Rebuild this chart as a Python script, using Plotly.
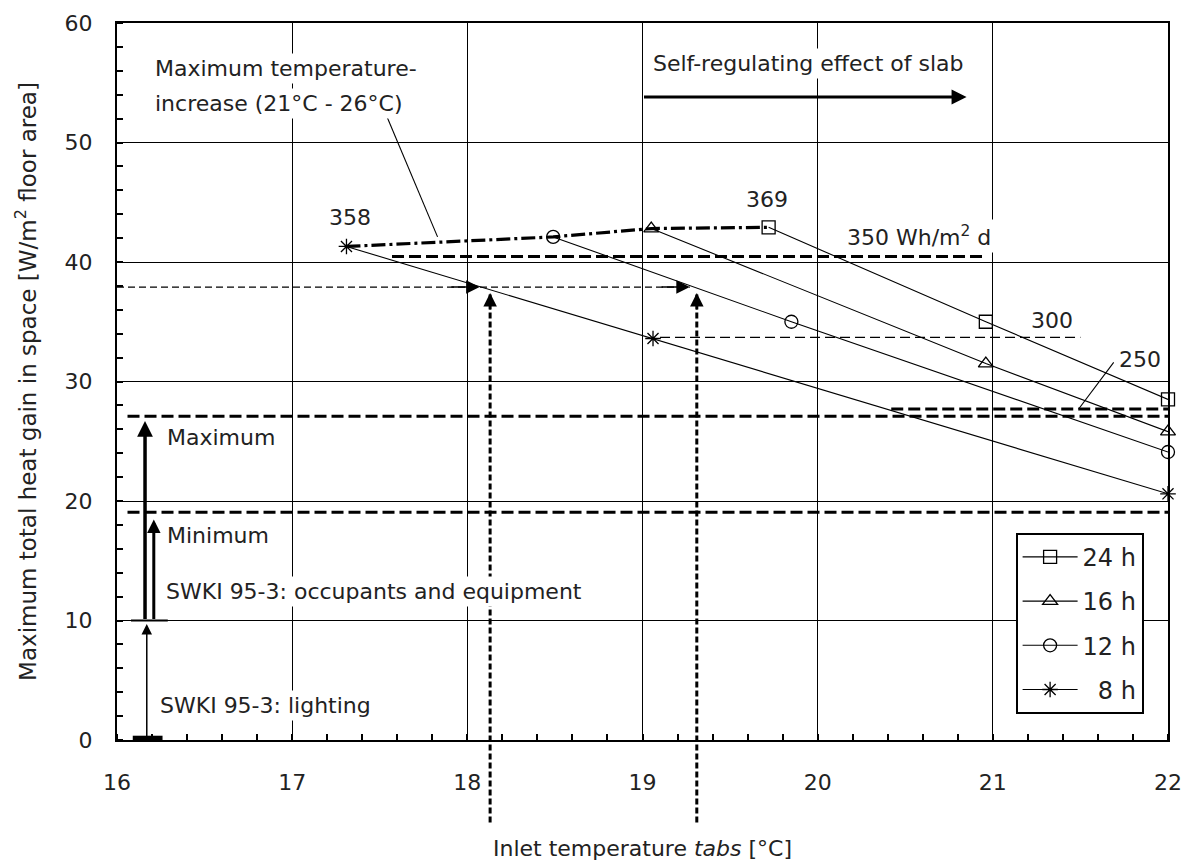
import plotly.graph_objects as go

# ================= DATA =================
# heat gain curves, one per operating time of the pump
X_24H = [19.72, 20.96, 22.0]
Y_24H = [42.9, 35.0, 28.5]
X_16H = [19.05, 20.96, 22.0]
Y_16H = [42.8, 31.5, 25.8]
X_12H = [18.49, 19.85, 22.0]
Y_12H = [42.1, 35.0, 24.1]
X_8H = [17.31, 19.06, 22.0]
Y_8H = [41.3, 33.6, 20.6]

SERIES_NAMES = ["24 h", "16 h", "12 h", "\u20078 h"]

# daily energy lines [Wh/m2 d]: level, x start, x end
LINE_350 = (40.45, 17.57, 20.95)
LINE_300 = (33.7, 19.1, 21.5)
LINE_250 = (27.7, 20.42, 22.0)

# SWKI 95-3 limits
Q_LIGHTING = 10
Q_MIN = 19.05
Q_MAX = 27.1

# read-off lines
READ_Y = 37.9
READ_X = [18.13, 19.31]

X_TICKS = [16, 17, 18, 19, 20, 21, 22]
Y_TICKS = [0, 10, 20, 30, 40, 50, 60]

FONT = "DejaVu Sans"
TXT = "#222222"

fig = go.Figure()

# ================= CURVES =================
series = [
    (X_24H, Y_24H, "square-open"),
    (X_16H, Y_16H, "triangle-up-open"),
    (X_12H, Y_12H, "circle-open"),
    (X_8H, Y_8H, "asterisk-open"),
]
for (xs, ys, sym), name in zip(series, SERIES_NAMES):
    fig.add_trace(go.Scatter(
        x=xs, y=ys, name=name, mode="lines+markers",
        line=dict(color="black", width=1.1),
        marker=dict(symbol=sym, size=13, color="black",
                    line=dict(color="black", width=1.3)),
        cliponaxis=False, legendgroup=name,
    ))

# maximum temperature increase line through the first points
first_x = [X_8H[0], X_12H[0], X_16H[0], X_24H[0]]
first_y = [Y_8H[0], Y_12H[0], Y_16H[0], Y_24H[0]]
fig.add_trace(go.Scatter(
    x=first_x, y=first_y, mode="lines", showlegend=False,
    line=dict(color="black", width=3.2, dash="14px,4px,3px,4px"),
))

HEAVY = dict(color="black", width=3, dash="12px,5px")

for lvl, x0, x1 in [LINE_350, LINE_250]:
    fig.add_trace(go.Scatter(x=[x0, x1], y=[lvl, lvl], mode="lines",
                             showlegend=False, line=HEAVY))
fig.add_trace(go.Scatter(x=[LINE_300[1], LINE_300[2]], y=[LINE_300[0]] * 2,
                         mode="lines", showlegend=False,
                         line=dict(color="black", width=1.2, dash="10px,5px")))

for q in [Q_MAX, Q_MIN]:
    fig.add_trace(go.Scatter(x=[16.06, 22.03], y=[q, q], mode="lines",
                             showlegend=False, line=HEAVY, cliponaxis=False))

# horizontal read-off line
fig.add_trace(go.Scatter(x=[16.0, READ_X[1] - 0.04], y=[READ_Y, READ_Y], mode="lines",
                         showlegend=False,
                         line=dict(color="black", width=1.3, dash="7px,4px")))

# leader lines
fig.add_trace(go.Scatter(x=[17.54, 17.83], y=[52.2, 42.1], mode="lines",
                         showlegend=False, line=dict(color="black", width=1.1)))
fig.add_trace(go.Scatter(x=[21.69, 21.49], y=[31.6, 27.7], mode="lines",
                         showlegend=False, line=dict(color="black", width=1.1)))

# ================= SHAPES =================
shapes = []
for xv in READ_X:
    shapes.append(dict(type="line", xref="x", yref="paper",
                       x0=xv, x1=xv, y0=-0.115, y1=(READ_Y - 0.6) / 60,
                       line=dict(color="black", width=3, dash="6px,3px")))
# bars at the base of the SWKI arrows
shapes.append(dict(type="line", xref="x", yref="y", x0=16.09, x1=16.26, y0=0.15, y1=0.15,
                   line=dict(color="black", width=5)))
shapes.append(dict(type="line", xref="x", yref="y", x0=16.08, x1=16.29,
                   y0=Q_LIGHTING, y1=Q_LIGHTING, line=dict(color="black", width=2)))

# ================= ARROWS =================
arrows = [
    # x, y, ax, ay, width, size
    (16.17, Q_LIGHTING - 0.3, 16.17, 0, 1.5, 1.4),
    (16.16, Q_MAX - 0.4, 16.16, Q_LIGHTING, 3.5, 0.9),
    (16.21, Q_MIN - 0.6, 16.21, Q_LIGHTING, 3, 0.9),
    (20.85, 53.8, 19.0, 53.8, 3, 1.0),
    (18.07, READ_Y, 17.9, READ_Y, 1.5, 1.8),
    (19.27, READ_Y, 19.1, READ_Y, 1.5, 1.8),
    (READ_X[0], READ_Y - 0.5, READ_X[0], READ_Y - 2.0, 1.5, 1.8),
    (READ_X[1], READ_Y - 0.5, READ_X[1], READ_Y - 2.0, 1.5, 1.8),
]
annotations = []
for x, y, ax, ay, w, s in arrows:
    annotations.append(dict(
        x=x, y=y, ax=ax, ay=ay, xref="x", yref="y", axref="x", ayref="y",
        text="", showarrow=True, arrowhead=2, arrowsize=s, arrowwidth=w,
        arrowcolor="black", standoff=0, startstandoff=0,
    ))

# ================= LABELS =================
labels = [
    # text, x, y, xanchor
    ("Maximum temperature-", 16.2, 56.2, "left"),
    ("increase (21°C - 26°C)", 16.2, 53.3, "left"),
    ("Self-regulating effect of slab", 19.045, 56.65, "left"),
    ("358", 17.33, 43.7, "center"),
    ("369", 19.71, 45.2, "center"),
    ("350 Wh/m<sup>2</sup> d", 20.15, 42.2, "left"),
    ("300", 21.34, 35.1, "center"),
    ("250", 21.84, 31.8, "center"),
    ("Maximum", 16.27, 25.3, "left"),
    ("Minimum", 16.27, 17.15, "left"),
    ("SWKI 95-3: occupants and equipment", 16.26, 12.4, "left"),
    ("SWKI 95-3: lighting", 16.23, 2.9, "left"),
]
for text, x, y, xa in labels:
    annotations.append(dict(
        x=x, y=y, xref="x", yref="y", text=text, showarrow=False,
        xanchor=xa, yanchor="middle", bgcolor="white", borderpad=2,
        font=dict(family=FONT, size=22, color=TXT),
    ))

# ================= LAYOUT =================
fig.update_layout(
    width=1181, height=853,
    margin=dict(l=109, r=21, t=15, b=121, autoexpand=False),
    paper_bgcolor="white", plot_bgcolor="white",
    font=dict(family=FONT, size=22, color=TXT),
    shapes=shapes, annotations=annotations,
    legend=dict(
        x=0.855, y=0.289, xanchor="left", yanchor="top",
        bgcolor="white", bordercolor="black", borderwidth=2,
        font=dict(family=FONT, size=24, color=TXT),
        tracegroupgap=10, itemwidth=55,
    ),
    xaxis=dict(
        range=[16, 22], tickvals=X_TICKS, showgrid=True, gridcolor="black", gridwidth=1.3,
        showline=True, mirror=True, linecolor="black", linewidth=2,
        ticks="", zeroline=False, ticklabelstandoff=22, automargin=False,
        tickfont=dict(family=FONT, size=22, color=TXT),
        minor=dict(dtick=0.2, ticks="inside", ticklen=6, tickcolor="black",
                   tickwidth=1.5, showgrid=False),
        title=dict(text="Inlet temperature <i>tabs</i> [°C]", standoff=46,
                   font=dict(family=FONT, size=22, color=TXT)),
    ),
    yaxis=dict(
        range=[0, 60], tickvals=Y_TICKS, showgrid=True, gridcolor="black", gridwidth=1.3,
        showline=True, mirror=True, linecolor="black", linewidth=2,
        ticks="", zeroline=False, ticklabelstandoff=18, automargin=False,
        tickfont=dict(family=FONT, size=22, color=TXT),
        minor=dict(dtick=2, ticks="inside", ticklen=6, tickcolor="black",
                   tickwidth=1.5, showgrid=False),
        title=dict(text="Maximum total heat gain in space [W/m<sup>2</sup> floor area]",
                   standoff=22, font=dict(family=FONT, size=23, color=TXT)),
    ),
)

fig.write_html("out.html")
